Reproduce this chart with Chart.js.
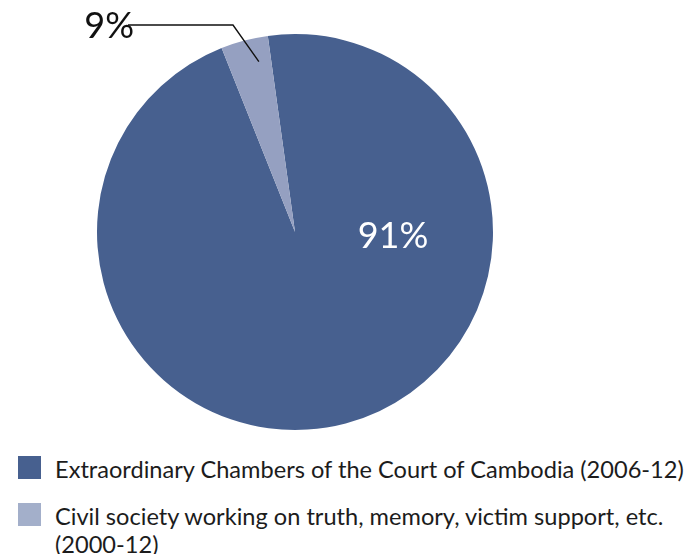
<!DOCTYPE html>
<html>
<head>
<meta charset="utf-8">
<script src="https://cdn.jsdelivr.net/npm/chart.js@4"></script>
<style>
  body { margin: 0; background: #fff; width: 692px; height: 554px; overflow: hidden; position: relative; font-family: Lato, "Open Sans", sans-serif; }
  #pie { position: absolute; left: 0; top: 0; }
  .legend { position: absolute; left: 18px; color: #1c1c1c; font-size: 23.6px; line-height: 28px; white-space: nowrap; }
  .legend .sw { position: absolute; left: 0; top: 1px; width: 23px; height: 23px; }
  .legend .tx { margin-left: 37px; }
</style>
</head>
<body>
<canvas id="pie" width="692" height="440"></canvas>
<div class="legend" id="lg0" style="top:455px"><span class="sw"></span><div class="tx"></div></div>
<div class="legend" id="lg1" style="top:502px"><span class="sw"></span><div class="tx"></div></div>
<script>
// series
const categories = ['Extraordinary Chambers of the Court of Cambodia (2006-12)',
                    'Civil society working on truth, memory, victim support, etc. (2000-12)'];
const shares = [96.15, 3.85];          // slice sizes as drawn
const shareLabels = ['91%', '9%'];     // printed labels
const sliceColors = ['#47608f', '#95a0c1'];
const legendColors = ['#47608f', '#a3afca'];

// legend (html)
categories.forEach(function (c, i) {
  var el = document.getElementById('lg' + i);
  el.querySelector('.sw').style.background = legendColors[i];
  var tx = el.querySelector('.tx');
  if (i == 1) { tx.innerHTML = 'Civil society working on truth, memory, victim support, etc.<br>(2000-12)'; }
  else tx.textContent = c;
});

// labels on top of the arcs
const pctLabels = {
  id: 'pctLabels',
  afterDatasetsDraw(chart) {
    const ctx = chart.ctx;
    const arcs = chart.getDatasetMeta(0).data;
    const big = arcs[0], small = arcs[1];
    ctx.save();
    ctx.font = '36px Lato, "Open Sans", sans-serif';
    ctx.textBaseline = 'middle';
    // big slice label, right half
    ctx.fillStyle = '#ffffff';
    ctx.textAlign = 'center';
    ctx.fillText(shareLabels[0], big.x + big.outerRadius * 0.495, big.y + 4);
    // small slice: leader line
    const mid = (small.startAngle + small.endAngle) / 2 + 0.05;
    const px = small.x + Math.cos(mid) * small.outerRadius * 0.88;
    const py = small.y + Math.sin(mid) * small.outerRadius * 0.88;
    ctx.strokeStyle = '#111';
    ctx.lineWidth = 1.4;
    ctx.beginPath();
    ctx.moveTo(px, py);
    ctx.lineTo(233, 25);
    ctx.lineTo(128, 25);
    ctx.stroke();
    ctx.fillStyle = '#111';
    ctx.textAlign = 'right';
    ctx.fillText(shareLabels[1], 134, 26);
    ctx.restore();
  }
};

new Chart(document.getElementById('pie'), {
  type: 'pie',
  data: {
    labels: categories,
    datasets: [{
      data: shares,
      backgroundColor: sliceColors,
      borderWidth: 0
    }]
  },
  options: {
    responsive: false,
    animation: false,
    rotation: -7.9,
    layout: { padding: { left: 97, top: 34, right: 692 - 493, bottom: 440 - 430 } },
    plugins: { legend: { display: false }, tooltip: { enabled: false } }
  },
  plugins: [pctLabels]
});
</script>
</body>
</html>
